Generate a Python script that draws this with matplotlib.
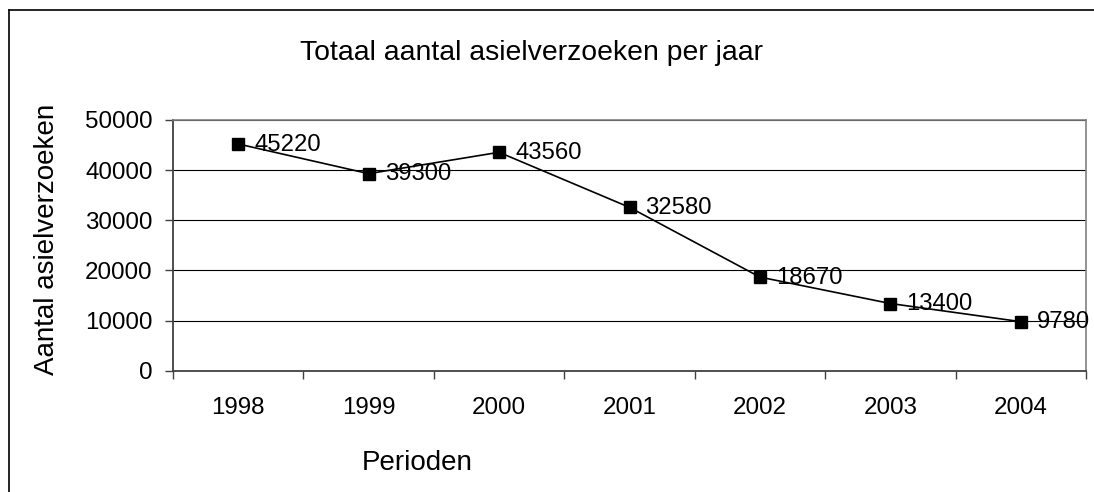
import numpy as np
import matplotlib.pyplot as plt
from matplotlib.lines import Line2D

plt.rcParams['font.family'] = ['Liberation Sans', 'DejaVu Sans']

# data
jaren = ['1998', '1999', '2000', '2001', '2002', '2003', '2004']
verzoeken = [45220, 39300, 43560, 32580, 18670, 13400, 9780]
y_ticks = [0, 10000, 20000, 30000, 40000, 50000]

W, H = 1094, 492
fig = plt.figure(figsize=(W / 100, H / 100), dpi=100)

# outer chart frame (only left and top visible)
fig.add_artist(Line2D([8.5 / W, 8.5 / W], [0, 1 - 10 / H], color='black', lw=1.2))
fig.add_artist(Line2D([8.5 / W, 1], [1 - 10 / H, 1 - 10 / H], color='black', lw=1.2))

ax = fig.add_axes([173 / W, 1 - 370.7 / H, (1086 - 173) / W, (370.7 - 120) / H])

x = np.arange(len(jaren))
ax.plot(x, verzoeken, color='black', lw=1.2, marker='s', markersize=9.2,
        markerfacecolor='black', markeredgecolor='black', zorder=3)

for xi, v in zip(x, verzoeken):
    ax.annotate(str(v), (xi, v), xytext=(11.5, -0.5), textcoords='offset points',
                ha='left', va='center', fontsize=17.2, clip_on=False, zorder=4)

ax.set_xlim(-0.5, len(jaren) - 0.5)
ax.set_ylim(0, 50000)
ax.set_yticks(y_ticks)
ax.set_yticklabels([str(t) for t in y_ticks])
ax.set_xticks(x)
ax.set_xticklabels(jaren)
ax.set_xticks(np.arange(-0.5, len(jaren)), minor=True)

ax.tick_params(axis='y', direction='out', length=5.8, width=1, color='#404040',
               labelsize=17.4, pad=9)
ax.tick_params(axis='x', which='major', length=0, labelsize=17.4, pad=19)
ax.tick_params(axis='x', which='minor', direction='out', length=5.8, width=1,
               color='#404040')

ax.yaxis.grid(True, color='black', lw=0.8)
ax.set_axisbelow(True)

for s in ['top', 'right']:
    ax.spines[s].set_color('#808080')
    ax.spines[s].set_linewidth(1.2)
for s in ['left', 'bottom']:
    ax.spines[s].set_color('#404040')
    ax.spines[s].set_linewidth(1.3)

fig.text(531 / W, 1 - 53 / H, 'Totaal aantal asielverzoeken per jaar',
         ha='center', va='center', fontsize=20.4)
fig.text(47 / W, 1 - 239 / H, 'Aantal asielverzoeken', rotation=90,
         ha='center', va='center', fontsize=20)
fig.text(417 / W, 1 - 463 / H, 'Perioden', ha='center', va='center', fontsize=20)

fig.savefig('out.png', dpi=100)
